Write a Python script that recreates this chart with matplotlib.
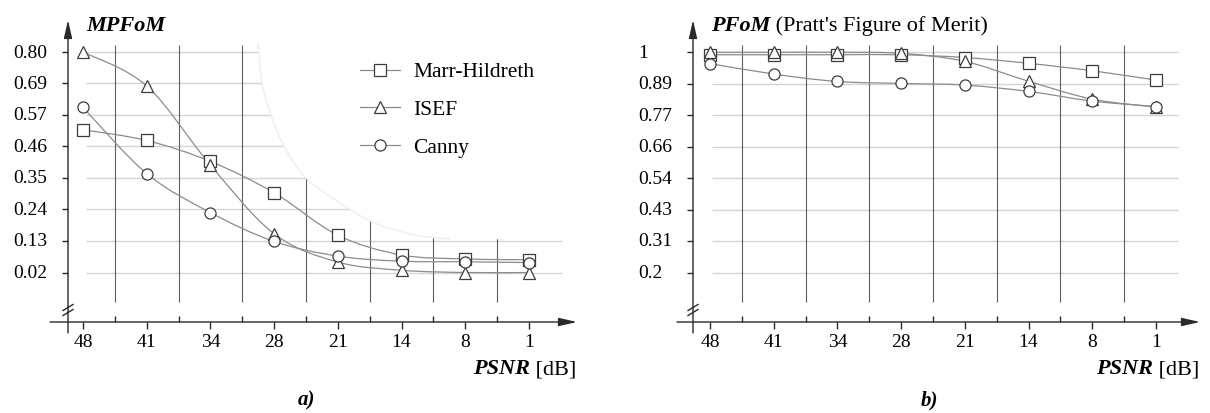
import matplotlib.pyplot as plt
import numpy as np
from matplotlib.lines import Line2D
from matplotlib.patches import PathPatch
from matplotlib.path import Path

psnr = ["48", "41", "34", "28", "21", "14", "8", "1"]
methods = ["Marr-Hildreth", "ISEF", "Canny"]
markers = ["s", "^", "o"]

mpfom_ticks = ["0.80", "0.69", "0.57", "0.46", "0.35", "0.24", "0.13", "0.02"]
mpfom_marr = [0.525, 0.487, 0.413, 0.302, 0.152, 0.082, 0.068, 0.065]
mpfom_isef = [0.800, 0.680, 0.400, 0.157, 0.057, 0.028, 0.020, 0.020]
mpfom_canny = [0.604, 0.370, 0.232, 0.130, 0.078, 0.060, 0.058, 0.055]

pfom_ticks = ["1", "0.89", "0.77", "0.66", "0.54", "0.43", "0.31", "0.2"]
pfom_marr = [0.990, 0.990, 0.990, 0.990, 0.980, 0.959, 0.932, 0.898]
pfom_isef = [0.999, 0.999, 0.999, 0.995, 0.966, 0.894, 0.829, 0.800]
pfom_canny = [0.958, 0.920, 0.893, 0.886, 0.880, 0.857, 0.822, 0.802]

plt.rcParams["font.family"] = ["Liberation Serif", "DejaVu Serif"]

W, H = 1210, 413
HALF = 605
DX = 63.7            # px between two PSNR steps
TOP, DY = 52, 31.5   # px of the top y tick, px between y ticks
LINE = "#8c8c8c"
EDGE = "#3c3c3c"
DARK = "#2a2a2a"
BI = dict(fontweight="bold", fontstyle="italic")


def catmull(xs, ys):
    pts = np.column_stack([xs, ys]).astype(float)
    ext = np.vstack([pts[0], pts, pts[-1]])
    verts, codes = [pts[0]], [Path.MOVETO]
    for k in range(len(pts) - 1):
        p0, p1, p2, p3 = ext[k], ext[k + 1], ext[k + 2], ext[k + 3]
        verts += [p1 + (p2 - p0) / 6, p2 - (p3 - p1) / 6, p2]
        codes += [Path.CURVE4] * 3
    return Path(verts, codes)


def panel(ax, left, x0, ticks, data, axis_px, xstart_px, xend_px, grid_px, lab_px):
    hi, lo = float(ticks[0]), float(ticks[-1])
    step = (hi - lo) / (len(ticks) - 1)

    def P(px, py):
        return (px - x0) / DX, hi - (py - TOP) / DY * step

    def X(px):
        return P(px, 0)[0]

    def Y(py):
        return P(0, py)[1]

    ax.set_xlim(X(left), X(left + HALF))
    ax.set_ylim(Y(H), Y(0))
    ax.axis("off")

    idx = np.arange(len(psnr))
    tick_vals = np.linspace(hi, lo, len(ticks))

    # grid
    ax.hlines(tick_vals, X(grid_px[0]), X(grid_px[1]), color="#d4d4d4", lw=1, zorder=1)
    ax.vlines(idx[:-1] + 0.5, Y(302), Y(45), color="#5e5e5e", lw=0.8, zorder=1.2)

    # axes with arrows
    arrow = dict(arrowstyle="-|>,head_length=1.1,head_width=0.25", mutation_scale=10,
                 lw=1, color=DARK, shrinkA=0, shrinkB=0)
    ax.annotate("", xy=(X(xend_px), Y(322)), xytext=(X(xstart_px), Y(322)),
                arrowprops=arrow, zorder=4)
    ax.annotate("", xy=(X(axis_px), Y(20)), xytext=(X(axis_px), Y(333)),
                arrowprops=arrow, zorder=4)

    # ticks
    ax.hlines(tick_vals, X(axis_px - 6), X(axis_px), color=DARK, lw=1, zorder=4)
    ax.vlines(idx, Y(329), Y(322), color=DARK, lw=1, zorder=4)
    ax.vlines(idx[:-1] + 0.5, Y(322), Y(316), color=DARK, lw=1, zorder=4)

    # axis break
    for off in (-2.5, 2.5):
        ax.plot([X(axis_px - 5), X(axis_px + 5)], [Y(310 + off + 3), Y(310 + off - 3)],
                color=DARK, lw=1, zorder=4)

    # tick labels
    for v, t in zip(tick_vals, ticks):
        ax.text(X(lab_px), v - 5.5 / DY * step, t, fontsize=14, ha="left", va="baseline")
    for i, t in zip(idx, psnr):
        ax.text(i, Y(347), t, fontsize=14, ha="center", va="baseline")

    # x label
    unit = ax.text(X(xend_px - 1), Y(374), " [dB]", fontsize=16, ha="right", va="baseline")
    ax.annotate("PSNR", xy=(0, 0), xycoords=unit, ha="right", va="bottom", fontsize=16, **BI)

    # series
    for vals, m in zip(data, markers):
        ax.add_patch(PathPatch(catmull(idx, vals), fc="none", ec=LINE, lw=0.9, zorder=3))
        ax.plot(idx, vals, ls="none", marker=m, ms=8, mfc="white", mec=EDGE, mew=0.9, zorder=3.5)

    return P


fig = plt.figure(figsize=(W / 100, H / 100), dpi=100)
ax1 = fig.add_axes([0, 0, HALF / W, 1])
ax2 = fig.add_axes([HALF / W, 0, HALF / W, 1])

# a) MPFoM
P1 = panel(ax1, 0, 83, mpfom_ticks, [mpfom_marr, mpfom_isef, mpfom_canny],
           68, 50, 577, (86, 562), 13)

# white area left by the legend in the original figure
mask_px = [(258, 42), (262, 83), (271, 115), (284, 146), (306, 178), (340, 203),
           (375, 223), (415, 235), (450, 239), (568, 239)]
mx, my = zip(*[P1(px, py) for px, py in mask_px])
curve = catmull(mx, my)
top_r, top_l = P1(568, 42), P1(258, 42)
fill = Path(np.vstack([curve.vertices, top_r, top_l, curve.vertices[0]]),
            list(curve.codes) + [Path.LINETO, Path.LINETO, Path.CLOSEPOLY])
ax1.add_patch(PathPatch(fill, fc="white", ec="none", zorder=2))
ax1.add_patch(PathPatch(catmull(mx[:-1], my[:-1]), fc="none", ec="#eeeeee", lw=1, zorder=2.1))

handles = [Line2D([], [], color=LINE, lw=0.9, marker=m, ms=8, mfc="white", mec=EDGE, mew=0.9)
           for m in markers]
ax1.legend(handles, methods, loc="upper left", bbox_to_anchor=(360 / HALF, 1 - 62 / H),
           frameon=False, fontsize=15.5, borderpad=0, borderaxespad=0,
           handlelength=1.86, handletextpad=0.6, labelspacing=0.82)

ax1.text(*P1(86, 31), "MPFoM", fontsize=16, ha="left", va="baseline", **BI)
ax1.text(*P1(306, 405), "a)", fontsize=15, ha="center", va="baseline", **BI)

# b) PFoM
P2 = panel(ax2, HALF, 710, pfom_ticks, [pfom_marr, pfom_isef, pfom_canny],
           693, 677, 1200, (712, 1178), 638)

t = ax2.text(*P2(711, 31), "PFoM", fontsize=16, ha="left", va="baseline", **BI)
ax2.annotate(" (Pratt's Figure of Merit)", xy=(1, 0), xycoords=t, ha="left", va="bottom",
             fontsize=16)
ax2.text(*P2(929, 405), "b)", fontsize=15, ha="center", va="baseline", **BI)

fig.savefig("out.png", dpi=100)
